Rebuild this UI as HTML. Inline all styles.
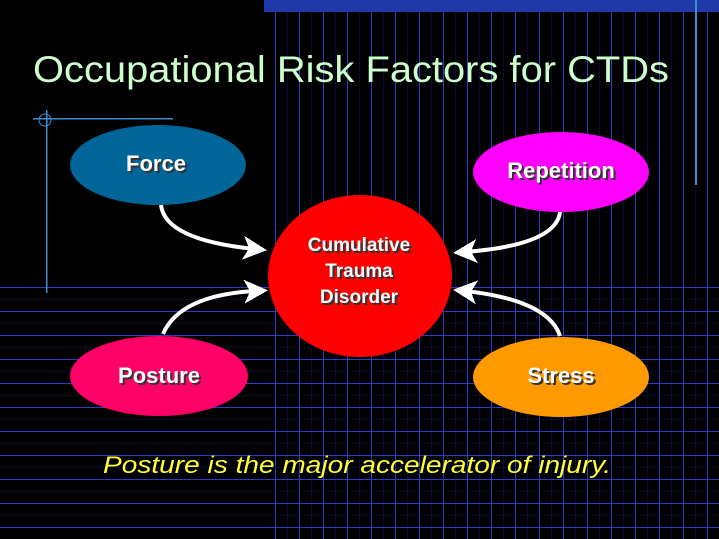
<!DOCTYPE html>
<html><head><style>
html,body{margin:0;padding:0;background:#000;}
body{width:719px;height:539px;overflow:hidden;position:relative;}
svg{position:absolute;left:0;top:0;}
</style></head><body>
<svg width="719" height="539" viewBox="0 0 719 539" xmlns="http://www.w3.org/2000/svg" shape-rendering="crispEdges">
<defs>
<pattern id="vg" x="11" y="0" width="24" height="24" patternUnits="userSpaceOnUse">
<rect x="0" y="0" width="1" height="24" fill="#2a3cc8"/>
<rect x="12" y="0" width="1" height="24" fill="#080c30"/>
</pattern>
<pattern id="hg" x="0" y="287" width="24" height="24" patternUnits="userSpaceOnUse">
<rect x="0" y="0" width="24" height="1" fill="#2a3cc8"/>
<rect x="0" y="12" width="24" height="1" fill="#080c30"/>
</pattern>
<marker id="ah" markerWidth="6" markerHeight="6" refX="3" refY="3" orient="auto" markerUnits="strokeWidth">
<path d="M0,0 L6,3 L0,6 L1.5,3 z" fill="#fff"/>
</marker>
</defs>
<rect x="275" y="0" width="444" height="539" fill="url(#vg)"/>
<rect x="0" y="287" width="719" height="252" fill="url(#hg)"/>
<rect x="264" y="0" width="455" height="12" fill="#1f3aa8"/>
<rect x="695" y="0" width="2" height="185" fill="#3a8fd0"/>
<rect x="33" y="118" width="140" height="1.5" fill="#3a8fd0"/>
<rect x="46" y="110" width="1.5" height="183" fill="#3a8fd0"/>
<g shape-rendering="auto">
<circle cx="45" cy="120" r="6" fill="none" stroke="#3a8fd0" stroke-width="1"/>
<text x="351" y="82" text-anchor="middle" font-family="Liberation Sans, sans-serif" font-size="37" fill="#ccffcc" textLength="636" lengthAdjust="spacingAndGlyphs">Occupational Risk Factors for CTDs</text>

<g fill="none" stroke="#fff" stroke-width="4" marker-end="url(#ah)">
<path d="M161,205 Q165,240 255,249"/>
<path d="M560,212 Q556,245 465,252"/>
<path d="M163,334 Q180,295 256,291"/>
<path d="M560,336 Q548,300 465,291"/>
</g>

<ellipse cx="158" cy="165" rx="88" ry="40" fill="#006699"/>
<ellipse cx="561" cy="172" rx="88" ry="40" fill="#ff00ff"/>
<ellipse cx="159" cy="376" rx="89" ry="40" fill="#ff0066"/>
<ellipse cx="561" cy="377" rx="88" ry="40" fill="#ff9900"/>
<ellipse cx="360" cy="276" rx="92" ry="81" fill="#ff0000"/>

<g font-family="Liberation Sans, sans-serif" font-weight="bold" text-anchor="middle">
<g fill="#333" font-size="22">
<text x="158" y="173">Force</text>
<text x="563" y="180">Repetition</text>
<text x="161" y="385">Posture</text>
<text x="563" y="385">Stress</text>
</g>
<g fill="#fff" font-size="22">
<text x="156" y="171">Force</text>
<text x="561" y="178">Repetition</text>
<text x="159" y="383">Posture</text>
<text x="561" y="383">Stress</text>
</g>
<g fill="#333" font-size="19">
<text x="361" y="253">Cumulative</text>
<text x="361" y="279">Trauma</text>
<text x="361" y="305">Disorder</text>
</g>
<g fill="#fff" font-size="19">
<text x="359" y="251">Cumulative</text>
<text x="359" y="277">Trauma</text>
<text x="359" y="303">Disorder</text>
</g>
</g>
<text x="357" y="473" text-anchor="middle" font-family="Liberation Sans, sans-serif" font-style="italic" font-size="24" fill="#ffff33" textLength="508" lengthAdjust="spacingAndGlyphs">Posture is the major accelerator of injury.</text>
</g>
</svg>
</body></html>
